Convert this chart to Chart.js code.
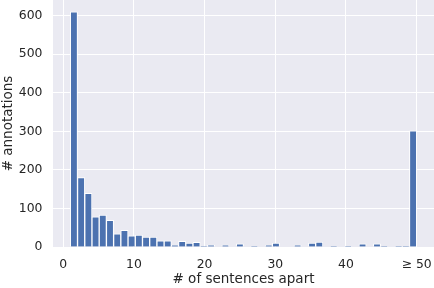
<!DOCTYPE html>
<html>
<head>
<meta charset="utf-8">
<script src="https://cdn.jsdelivr.net/npm/chart.js@4/dist/chart.umd.min.js"></script>
<style>
  html, body { margin: 0; padding: 0; background: #ffffff; }
  #chart { display: block; }
</style>
</head>
<body>
<canvas id="chart" width="434" height="288"></canvas>
<script>
// histogram: 48 bins between 1 and 50 (last bin holds everything >= 50)
const binStart = 1;
const binEnd = 50;
const counts = [
  610, 180, 139, 78, 83, 69, 34, 43, 29, 31,
  26, 26, 16, 16, 5, 15, 10, 12, 1, 5,
  0, 5, 0, 8, 0, 1, 0, 5, 10, 0,
  0, 5, 0, 10, 13, 0, 1, 0, 1, 0,
  8, 0, 8, 1, 0, 1, 1, 301
];
const xTickLabels = { 50: '\u2265 50' };

const xTitle = '# of sentences apart';
const yTitle = '# annotations';

Chart.defaults.font.family = '"DejaVu Sans", sans-serif';
Chart.defaults.font.size = 12.4;
Chart.defaults.color = '#262626';

// bin centres from the bin edges
const binWidth = (binEnd - binStart) / counts.length;
const points = counts.map((c, i) => ({ x: binStart + (i + 0.5) * binWidth, y: c }));

// matplotlib-like 5% margins
const xMin = binStart - 0.05 * (binEnd - binStart);
const xMax = binEnd + 0.05 * (binEnd - binStart);
const yMax = Math.max(...counts) * 1.05;

// grey plot background (seaborn darkgrid)
const plotBackground = {
  id: 'plotBackground',
  beforeDraw(chart) {
    const { ctx, chartArea } = chart;
    ctx.save();
    ctx.fillStyle = '#EAEAF2';
    ctx.fillRect(chartArea.left, chartArea.top, chartArea.right - chartArea.left, chartArea.bottom - chartArea.top);
    ctx.restore();
  }
};

new Chart(document.getElementById('chart'), {
  type: 'bar',
  data: {
    datasets: [{
      data: points,
      backgroundColor: '#4C72B0',
      borderColor: '#ffffff',
      borderWidth: 1,
      borderSkipped: 'bottom',
      barPercentage: 1,
      categoryPercentage: 1
    }]
  },
  options: {
    responsive: false,
    animation: false,
    devicePixelRatio: 1,
    layout: { padding: 0 },
    plugins: {
      legend: { display: false },
      tooltip: { enabled: false }
    },
    scales: {
      x: {
        type: 'linear',
        min: xMin,
        max: xMax,
        offset: false,
        grid: { color: '#ffffff', lineWidth: 1, drawTicks: false, offset: false },
        border: { display: false },
        ticks: {
          stepSize: 10,
          includeBounds: false,
          padding: 10.5,
          maxRotation: 0,
          callback: (v) => xTickLabels[v] || String(v)
        },
        title: { display: true, text: xTitle, font: { size: 13.5 }, padding: { top: 0, bottom: 0 } },
        afterFit(scale) {
          scale.height = 41;
          scale.paddingLeft = 0;
          scale.paddingRight = 0;
        }
      },
      y: {
        min: 0,
        max: yMax,
        grid: { color: '#ffffff', lineWidth: 1, drawTicks: false },
        border: { display: false },
        ticks: { stepSize: 100, includeBounds: false, padding: 10.5 },
        title: { display: true, text: yTitle, font: { size: 13.5 }, padding: { top: 0, bottom: 0 } },
        afterFit(scale) {
          scale.width = 53;
          scale.paddingTop = 0;
          scale.paddingBottom = 0;
        }
      }
    }
  },
  plugins: [plotBackground]
});
</script>
</body>
</html>
